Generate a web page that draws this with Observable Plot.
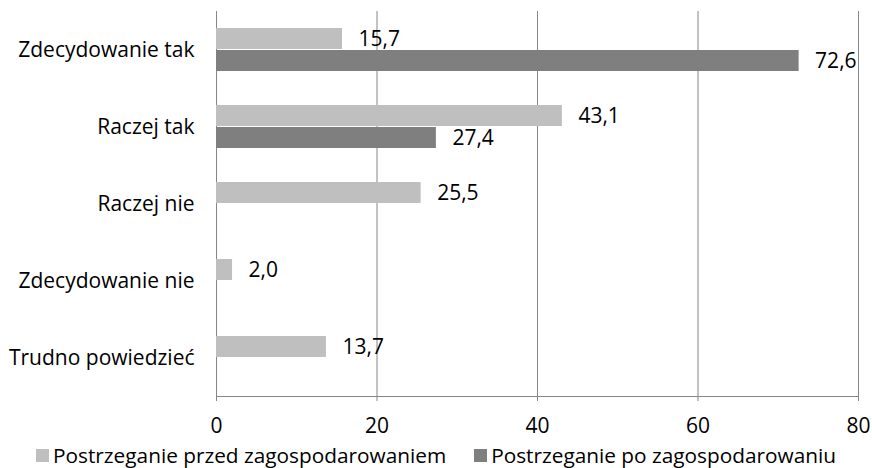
<!DOCTYPE html>
<html>
<head>
<meta charset="utf-8">
<script src="https://cdn.jsdelivr.net/npm/d3@7"></script>
<script src="https://cdn.jsdelivr.net/npm/@observablehq/plot@0.6"></script>
<style>
  html, body { margin: 0; padding: 0; background: #fff; }
  #chart { width: 872px; height: 468px; font-family: "Open Sans", sans-serif; }
  .legend { display: flex; justify-content: center; align-items: center; height: 26px; font-size: 20.8px; color: #000; white-space: nowrap; }
  .legend .item { display: flex; align-items: center; margin: 0 14px; }
  .legend .sw { width: 13px; height: 13px; margin-right: 4px; }
</style>
</head>
<body>
<div id="chart"></div>
<script>
const categories = ["Zdecydowanie tak", "Raczej tak", "Raczej nie", "Zdecydowanie nie", "Trudno powiedzieć"];
const series = ["Postrzeganie przed zagospodarowaniem", "Postrzeganie po zagospodarowaniu"];
const before = [15.7, 43.1, 25.5, 2.0, 13.7];
const after = [72.6, 27.4, null, null, null];
const xTicks = [0, 20, 40, 60, 80];
const colors = ["#bfbfbf", "#7f7f7f"];

const data = [];
categories.forEach((c, i) => {
  [before, after].forEach((arr, j) => {
    if (arr[i] != null) data.push({category: c, series: series[j], value: arr[i]});
  });
});

const fmt = v => v.toFixed(1).replace(".", ",");
const axisColor = "#868686";

const chart = Plot.plot({
  width: 872,
  height: 442,
  marginTop: 9,
  marginBottom: 45,
  marginLeft: 216,
  marginRight: 14,
  style: {fontFamily: "'Open Sans', sans-serif", fontSize: "21px", color: "#000", background: "#fff"},
  x: {domain: [0, 80]},
  fy: {domain: categories, padding: 0},
  y: {domain: series, paddingInner: 0.04, paddingOuter: 0.75, axis: null},
  color: {domain: series, range: colors},
  marks: [
    Plot.gridX(xTicks, {stroke: axisColor, strokeOpacity: 1}),
    Plot.barX(data, {x: "value", y: "series", fy: "category", fill: "series"}),
    Plot.text(data, {x: "value", y: "series", fy: "category", text: d => fmt(d.value), textAnchor: "start", dx: 16, fill: "#000"}),
    Plot.frame({anchor: "bottom", facetAnchor: "bottom", stroke: axisColor}),
    Plot.axisX(xTicks, {anchor: "bottom", tickSize: 5, tickPadding: 17, stroke: axisColor, fill: "#000", label: null, tickFormat: d => String(d)}),
    Plot.axisFy({anchor: "left", tickSize: 0, tickPadding: 22, label: null, fill: "#000"})
  ]
});

const root = document.getElementById("chart");
root.appendChild(chart);

const legend = document.createElement("div");
legend.className = "legend";
series.forEach((s, i) => {
  const item = document.createElement("div");
  item.className = "item";
  const sw = document.createElement("span");
  sw.className = "sw";
  sw.style.background = colors[i];
  const t = document.createElement("span");
  t.textContent = s;
  item.appendChild(sw);
  item.appendChild(t);
  legend.appendChild(item);
});
root.appendChild(legend);
</script>
</body>
</html>
